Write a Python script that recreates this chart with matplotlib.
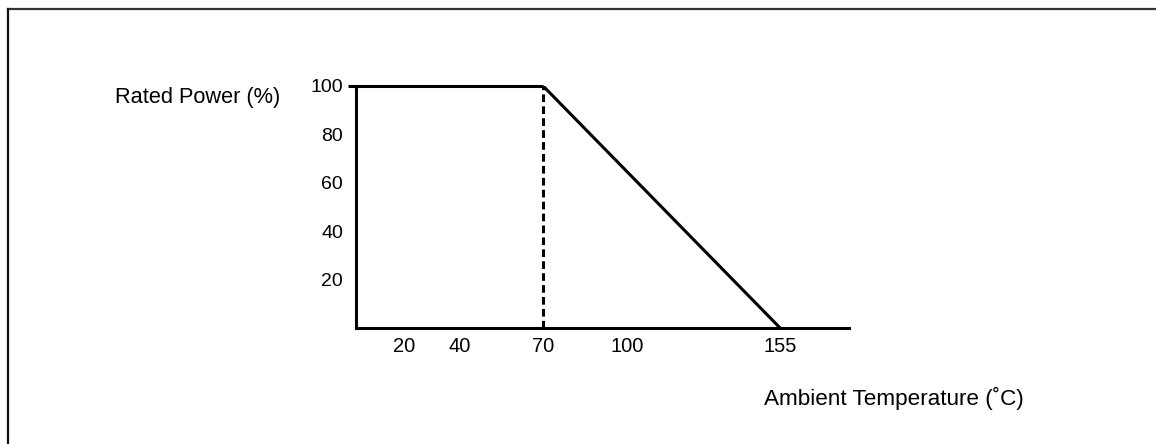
import matplotlib
matplotlib.use("Agg")
import matplotlib.pyplot as plt
from matplotlib.lines import Line2D

plt.rcParams['font.family'] = ['Liberation Sans', 'DejaVu Sans']

# Data
temps = [0, 70, 155]            # ambient temperature (°C)
power = [100, 100, 0]           # rated power (%)
knee_temp = 70
x_ticks = [20, 40, 70, 100, 155]
y_ticks = [20, 40, 60, 80, 100]
y_label = "Rated Power (%)"
x_label = "Ambient Temperature (\u02daC)"

W, H = 1156, 444
fig = plt.figure(figsize=(W / 100, H / 100), dpi=100)
fig.patch.set_facecolor('white')

# outer frame (top + left only)
fig.add_artist(Line2D([8 / W, 1.0], [1 - 9 / H, 1 - 9 / H], transform=fig.transFigure,
                      color='#333333', lw=1.6))
fig.add_artist(Line2D([8 / W, 8 / W], [0.0, 1 - 9 / H], transform=fig.transFigure,
                      color='#111111', lw=1.6))

ax = fig.add_axes([355.5 / W, 1 - 328 / H, (849 - 355.5) / W, (328 - 86) / H])
ax.set_xlim(2.7, 179.7)
ax.set_ylim(0, 100)

lw = 2.2
ax.plot(temps, power, color='black', lw=lw, clip_on=True, solid_capstyle='butt')
ax.plot([temps[0], temps[1]], [power[0], power[1]], color='black', lw=lw, clip_on=False,
        solid_capstyle='butt')
ax.plot([knee_temp, knee_temp], [0, 100], color='black', lw=lw, linestyle=(0, (2.5, 1.4)))

for s in ['top', 'right']:
    ax.spines[s].set_visible(False)
for s in ['left', 'bottom']:
    ax.spines[s].set_linewidth(lw)
    ax.spines[s].set_color('black')

ax.set_xticks(x_ticks)
ax.set_xticklabels([str(v) for v in x_ticks])
ax.set_yticks(y_ticks)
ax.set_yticklabels([str(v) for v in y_ticks])
ax.tick_params(axis='x', length=0, pad=6.5, labelsize=14.5, colors='black')
ax.tick_params(axis='y', length=0, pad=9, labelsize=14, colors='black')

fig.text(115 / W, 1 - 97 / H, y_label, ha='left', va='center', fontsize=15.7)
fig.text(764 / W, 1 - 398 / H, x_label, ha='left', va='center', fontsize=16.2)

fig.savefig('out.png', dpi=100, facecolor='white')
